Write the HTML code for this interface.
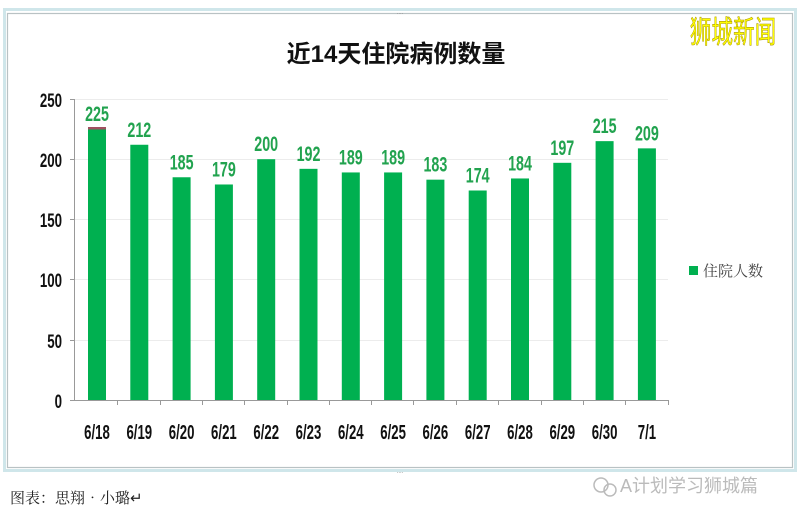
<!DOCTYPE html>
<html><head><meta charset="utf-8"><style>
html,body{margin:0;padding:0;background:#fff;}
svg{display:block;}
</style></head><body>
<svg width="800" height="521" viewBox="0 0 800 521" xmlns="http://www.w3.org/2000/svg">
<rect width="800" height="521" fill="#fff"/>
<rect x="4.5" y="9.5" width="791" height="461" fill="none" stroke="#cfe6ea" stroke-width="3"/>
<rect x="7.5" y="13.5" width="785" height="454" fill="none" stroke="#b9c2c4" stroke-width="1.2"/>
<text x="400" y="14" font-size="6" fill="#888" text-anchor="middle" font-family="Liberation Sans">....</text>
<text x="400" y="473" font-size="6" fill="#888" text-anchor="middle" font-family="Liberation Sans">....</text>
<text transform="translate(733,43) scale(0.8,1.15)" font-size="27" fill="#ffff00" stroke="#a89400" stroke-width="0.5" text-anchor="middle" font-family="'Noto Sans CJK SC',sans-serif">狮城新闻</text>
<text x="396" y="62" font-size="24" font-weight="bold" fill="#111" text-anchor="middle" font-family="'Liberation Sans','Noto Sans CJK SC',sans-serif">近14天住院病例数量</text>
<g stroke="#ececec" stroke-width="1">
<line x1="74" y1="99.5" x2="668" y2="99.5"/>
<line x1="74" y1="159.5" x2="668" y2="159.5"/>
<line x1="74" y1="219.5" x2="668" y2="219.5"/>
<line x1="74" y1="279.5" x2="668" y2="279.5"/>
<line x1="74" y1="340.5" x2="668" y2="340.5"/>
</g>
<g stroke="#999" stroke-width="1">
<line x1="74.5" y1="99" x2="74.5" y2="400"/>
<line x1="70" y1="400.5" x2="668" y2="400.5"/>
<line x1="70" y1="99.5" x2="74" y2="99.5"/><line x1="70" y1="159.5" x2="74" y2="159.5"/><line x1="70" y1="219.5" x2="74" y2="219.5"/><line x1="70" y1="279.5" x2="74" y2="279.5"/><line x1="70" y1="340.5" x2="74" y2="340.5"/>
<line x1="117.5" y1="400" x2="117.5" y2="405"/><line x1="160.5" y1="400" x2="160.5" y2="405"/><line x1="202.5" y1="400" x2="202.5" y2="405"/><line x1="244.5" y1="400" x2="244.5" y2="405"/><line x1="287.5" y1="400" x2="287.5" y2="405"/><line x1="329.5" y1="400" x2="329.5" y2="405"/><line x1="371.5" y1="400" x2="371.5" y2="405"/><line x1="413.5" y1="400" x2="413.5" y2="405"/><line x1="456.5" y1="400" x2="456.5" y2="405"/><line x1="498.5" y1="400" x2="498.5" y2="405"/><line x1="541.5" y1="400" x2="541.5" y2="405"/><line x1="583.5" y1="400" x2="583.5" y2="405"/><line x1="625.5" y1="400" x2="625.5" y2="405"/><line x1="668.5" y1="400" x2="668.5" y2="405"/>
</g>
<g font-family="'Liberation Sans',sans-serif" font-weight="bold" font-size="19" fill="#111" text-anchor="end">
<text transform="translate(62,107) scale(0.7,1)">250</text><text transform="translate(62,167) scale(0.7,1)">200</text><text transform="translate(62,227) scale(0.7,1)">150</text><text transform="translate(62,287) scale(0.7,1)">100</text><text transform="translate(62,348) scale(0.7,1)">50</text><text transform="translate(62,408) scale(0.7,1)">0</text>
</g>
<g id="bars" fill="#00b050"></g>
<g id="lbl" font-family="'Liberation Sans',sans-serif" font-weight="bold" font-size="21" fill="#22a34f" text-anchor="middle"></g>
<g id="xl" font-family="'Liberation Sans',sans-serif" font-weight="bold" font-size="20" fill="#111" text-anchor="middle"></g>
<rect x="88" y="127" width="18" height="2.5" fill="#a05060"/>
<rect x="689" y="266" width="9" height="9" fill="#00b050"/>
<text x="703" y="276" font-size="15" fill="#444" font-family="'Noto Serif CJK SC',serif">住院人数</text>
<text x="10" y="503" font-size="15" fill="#222" font-family="'Noto Serif CJK SC',serif">图表：思翔•小璐↵</text>
<text x="620" y="492" font-size="18" fill="#bbb" font-family="'Liberation Sans','Noto Sans CJK SC',sans-serif">A计划学习狮城篇</text>
<circle cx="601" cy="485" r="7" fill="none" stroke="#bbb" stroke-width="1.5"/>
<circle cx="610" cy="490" r="6" fill="none" stroke="#bbb" stroke-width="1.5"/>
</svg>
<script>
var v=[225,212,185,179,200,192,189,189,183,174,184,197,215,209];
var d=["6/18","6/19","6/20","6/21","6/22","6/23","6/24","6/25","6/26","6/27","6/28","6/29","6/30","7/1"];
var ns="http://www.w3.org/2000/svg",b=document.getElementById("bars"),l=document.getElementById("lbl"),x=document.getElementById("xl");
for(var i=0;i<14;i++){var c=97+i*42.3,h=v[i]*1.204,t=400-h;
var r=document.createElementNS(ns,"rect");r.setAttribute("x",c-9);r.setAttribute("y",t);r.setAttribute("width",18);r.setAttribute("height",h);b.appendChild(r);
var s=document.createElementNS(ns,"text");s.setAttribute("transform","translate("+c+","+(t-8)+") scale(0.68,1)");s.textContent=v[i];l.appendChild(s);
var u=document.createElementNS(ns,"text");u.setAttribute("transform","translate("+c+",439) scale(0.66,1)");u.textContent=d[i];x.appendChild(u);}
</script>
</body></html>
